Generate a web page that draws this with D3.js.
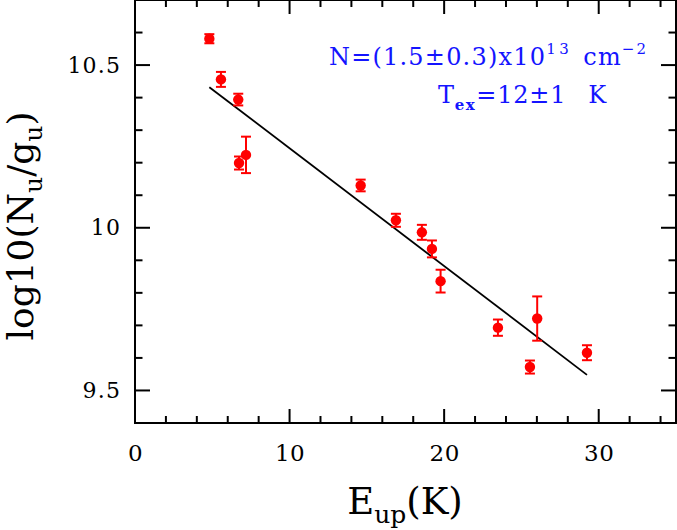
<!DOCTYPE html>
<html><head><meta charset="utf-8">
<script src="https://cdn.jsdelivr.net/npm/d3@7"></script>
<style>body{margin:0;background:#fff}svg{display:block}</style>
</head><body>
<svg id="c" width="677" height="530"></svg>
<script>
// Data
const eup  = [4.81, 5.56, 6.68, 6.73, 7.18, 14.60, 16.88, 18.56, 19.21, 19.77, 23.48, 25.55, 26.02, 29.24];
const logN = [10.581, 10.456, 10.394, 10.199, 10.224, 10.130, 10.023, 9.986, 9.935, 9.836, 9.693, 9.572, 9.721, 9.616];
const errN = [0.014, 0.023, 0.018, 0.020, 0.056, 0.018, 0.020, 0.023, 0.026, 0.035, 0.025, 0.020, 0.068, 0.023];
const fitX = [4.81, 29.24];
const fitY = [10.432, 9.548];
const xMajor = [0, 10, 20, 30];
const yMajor = [9.5, 10, 10.5];
const yMajorLabels = ["9.5", "10", "10.5"];
const xMinor = d3.range(0, 35.01, 2);
const yMinor = d3.range(9.4, 10.71, 0.1);

const svg = d3.select("#c");
const L = 135, R = 676, T = 0, B = 423;
const x = d3.scaleLinear().domain([0, 35]).range([L, R]);
const y = d3.scaleLinear().domain([9.4, 10.7]).range([B, T]);
const serif = "'DejaVu Serif', serif";

// ticks (inward, all four sides)
const g = svg.append("g").attr("stroke", "#000").attr("stroke-width", 2);
xMinor.forEach(v => {
  const len = xMajor.some(m => Math.abs(m - v) < 1e-6) ? 14 : 7;
  g.append("line").attr("x1", x(v)).attr("x2", x(v)).attr("y1", B).attr("y2", B - len);
  g.append("line").attr("x1", x(v)).attr("x2", x(v)).attr("y1", T).attr("y2", T + len);
});
yMinor.forEach(v => {
  const isMaj = yMajor.some(m => Math.abs(m - v) < 1e-6);
  const len = isMaj ? 15 : 7.5;
  g.append("line").attr("y1", y(v)).attr("y2", y(v)).attr("x1", L).attr("x2", L + len);
  g.append("line").attr("y1", y(v)).attr("y2", y(v)).attr("x1", R).attr("x2", R - len);
});
// frame
svg.append("rect").attr("x", L).attr("y", T).attr("width", R - L).attr("height", B - T)
  .attr("fill", "none").attr("stroke", "#000").attr("stroke-width", 2);

// axis labels via d3 axes (ticks hidden)
const xa = svg.append("g").attr("transform", `translate(0,${B})`)
  .call(d3.axisBottom(x).tickValues(xMajor).tickSize(0).tickPadding(0).tickFormat(d3.format("d")));
xa.select(".domain").remove();
xa.selectAll("text").attr("font-family", serif).attr("font-size", 23).attr("fill", "#000")
  .attr("dy", null).attr("y", 37.5).attr("letter-spacing", 0.5);
const ya = svg.append("g").attr("transform", `translate(${L},0)`)
  .call(d3.axisLeft(y).tickValues(yMajor).tickSize(0).tickPadding(15).tickFormat((d, i) => yMajorLabels[i]));
ya.select(".domain").remove();
ya.selectAll("text").attr("font-family", serif).attr("font-size", 22).attr("fill", "#000")
  .attr("letter-spacing", 1.2).attr("dx", 1.2);

// fit line
svg.append("line").attr("x1", x(fitX[0])).attr("y1", y(fitY[0])).attr("x2", x(fitX[1])).attr("y2", y(fitY[1]))
  .attr("stroke", "#000").attr("stroke-width", 1.8);

// error bars + points
const red = "#ff0000";
const pts = svg.append("g");
eup.forEach((xv, i) => {
  const y0 = y(logN[i] - errN[i]), y1 = y(logN[i] + errN[i]);
  pts.append("line").attr("x1", x(xv)).attr("x2", x(xv)).attr("y1", y0).attr("y2", y1).attr("stroke", red).attr("stroke-width", 2);
  [y0, y1].forEach(yy => pts.append("line").attr("x1", x(xv) - 5).attr("x2", x(xv) + 5).attr("y1", yy).attr("y2", yy).attr("stroke", red).attr("stroke-width", 2));
  pts.append("circle").attr("cx", x(xv)).attr("cy", y(logN[i])).attr("r", 5.2).attr("fill", red);
});

// annotation
const blue = "#1414ff";
const t1 = svg.append("text").attr("x", 329).attr("y", 65).attr("font-family", serif).attr("font-size", 24)
  .attr("fill", blue).attr("letter-spacing", 1.2);
t1.append("tspan").text("N=(1.5±0.3)x10");
t1.append("tspan").attr("dy", -11).attr("font-size", 15).attr("letter-spacing", 3.5).text("13");
t1.append("tspan").attr("dy", 11).attr("dx", 11).text("cm");
t1.append("tspan").attr("dy", -11).attr("font-size", 15).attr("letter-spacing", 2).text("−2");
const t2 = svg.append("text").attr("x", 438).attr("y", 103).attr("font-family", serif).attr("font-size", 24)
  .attr("fill", blue).attr("letter-spacing", 0.8);
t2.append("tspan").text("T");
t2.append("tspan").attr("dy", 7).attr("font-size", 15).attr("font-weight", "bold").attr("letter-spacing", 1.5).text("ex");
t2.append("tspan").attr("dy", -7).text("=12±1");
t2.append("tspan").attr("dx", 22).text("K");

// axis titles
const xt = svg.append("text").attr("x", 405).attr("y", 514).attr("text-anchor", "middle")
  .attr("font-family", serif).attr("font-size", 37).attr("fill", "#000");
xt.append("tspan").text("E");
xt.append("tspan").attr("dy", 9).attr("font-size", 25).text("up");
xt.append("tspan").attr("dy", -9).text("(K)");

const yt = svg.append("text").attr("transform", "translate(33,226) rotate(-90)").attr("text-anchor", "middle")
  .attr("font-family", serif).attr("font-size", 36).attr("fill", "#000");
yt.append("tspan").text("log10(N");
yt.append("tspan").attr("dy", 9).attr("font-size", 25).text("u");
yt.append("tspan").attr("dy", -9).text("/g");
yt.append("tspan").attr("dy", 9).attr("font-size", 25).text("u");
yt.append("tspan").attr("dy", -9).text(")");
</script>
</body></html>
